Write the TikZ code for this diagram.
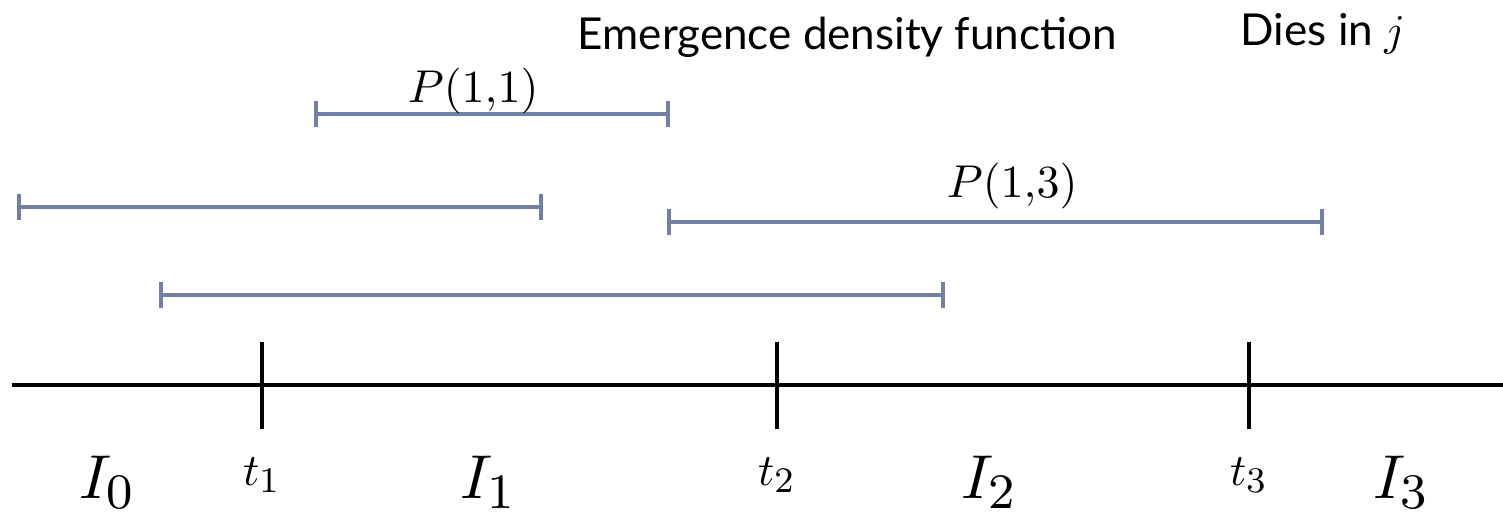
\documentclass[tikz,border=0pt]{standalone}
\usepackage{fontspec}
\newfontfamily\gillfont{Lato}
\usetikzlibrary{arrows.meta}
\DeclareMathSizes{10}{10}{8}{6}
\definecolor{spanblue}{RGB}{114,127,166}

\begin{document}
\begin{tikzpicture}[x=1pt,y=-1pt,
  span/.style={draw=spanblue,line width=4pt,{Bar[width=26pt]}-{Bar[width=26pt]}},
  tickmark/.style={line width=3.5pt},
  lbl/.style={inner sep=0pt,anchor=base,font=\fontsize{10}{12}\selectfont}]
 \useasboundingbox (0,0) rectangle (1503,517);
 \draw[line width=4pt] (12,385)--(1503,385);
 \foreach \x in {262,777,1249}
  \draw[tickmark] (\x,342)--(\x,429);
 \draw[span] (314,114)--(670,114);
 \draw[span] (17,207)--(543,207);
 \draw[span] (667,222)--(1324,222);
 \draw[span] (159,295)--(945,295);
 \node[lbl,anchor=base west,scale=4.4] (title) at (577,49) {\gillfont Emergence density function};
 \node[lbl,anchor=base west,scale=4.4] (dies) at (1240,45) {\gillfont Dies in $j$};
 \node[lbl,anchor=base west,scale=4.6] (p11) at (407,102) {$P(1{,}1)$};
 \node[lbl,anchor=base west,scale=4.6] (p13) at (946,197) {$P(1{,}3)$};
 \foreach \x/\i in {108/0,489/1,990/2,1402/3}
  \node[lbl,scale=6.2] (I\i) at (\x,498) {$I_\i$};
 \foreach \x/\i in {262/1,777/2,1249/3}
  \node[lbl,scale=4.5] (t\i) at (\x,485) {$t_\i$};
\end{tikzpicture}
\end{document}
